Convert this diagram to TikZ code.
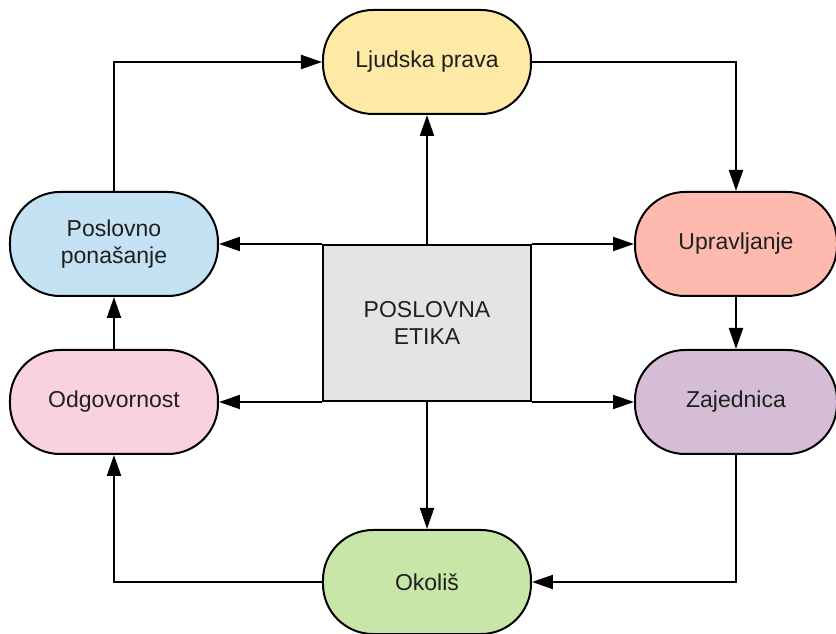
\documentclass[tikz,border=0pt]{standalone}
\usepackage{fontspec}
\setmainfont{Liberation Sans}
\usepackage{tikz}
\usetikzlibrary{positioning, arrows.meta}
\definecolor{pravaYellow}{RGB}{254,233,165}
\definecolor{ponasanjeBlue}{RGB}{196,226,244}
\definecolor{upravRed}{RGB}{255,186,176}
\definecolor{odgovPink}{RGB}{249,210,222}
\definecolor{zajedPurple}{RGB}{213,189,213}
\definecolor{okolisGreen}{RGB}{199,230,168}
\definecolor{etikaGrey}{RGB}{228,228,228}
\tikzset{
    >={Triangle[length=21pt, width=14pt]}, % filled triangular heads
    every node/.style={font=\fontsize{23pt}{27pt}\selectfont, text=black!88, align=center},
    pill/.style={draw, line width=2pt, rounded corners=50pt, minimum width=208pt, minimum height=104pt}, % rounded boxes round the centre
    centrebox/.style={draw, line width=2pt, fill=etikaGrey, minimum width=208pt, minimum height=156pt},
    link/.style={->, line width=2pt}, % connectors
}
\begin{document}
\begin{tikzpicture}
    \useasboundingbox (-427pt,-311pt) rectangle (409pt,323pt);
    \node[centrebox] (etika) {POSLOVNA\\ETIKA};
    \node[pill, fill=pravaYellow, above=129pt of etika] (prava) {Ljudska prava};
    \node[pill, fill=okolisGreen, below=127pt of etika] (okolis) {Okoliš};
    \node[pill, fill=ponasanjeBlue, left=103pt of etika.north west] (ponasanje) {Poslovno\\ponašanje};
    \node[pill, fill=odgovPink, left=103pt of etika.south west] (odgovornost) {Odgovornost};
    \node[pill, fill=upravRed, minimum width=202pt, right=102pt of etika.north east] (upravljanje) {Upravljanje};
    \node[pill, fill=zajedPurple, minimum width=202pt, right=102pt of etika.south east] (zajednica) {Zajednica};
    % from the centre outwards
    \draw[link] (etika.north) -- (prava.south);
    \draw[link] (etika.south) -- (okolis.north);
    \draw[link] (etika.north west) -- (ponasanje.east);
    \draw[link] (etika.south west) -- (odgovornost.east);
    \draw[link] (etika.north east) -- (upravljanje.west);
    \draw[link] (etika.south east) -- (zajednica.west);
    % the outer ring
    \draw[link] (ponasanje.north) |- (prava.west);
    \draw[link] (prava.east) -| (upravljanje.north);
    \draw[link] (upravljanje.south) -- (zajednica.north);
    \draw[link] (zajednica.south) |- (okolis.east);
    \draw[link] (okolis.west) -| (odgovornost.south);
    \draw[link] (odgovornost.north) -- (ponasanje.south);
\end{tikzpicture}
\end{document}
